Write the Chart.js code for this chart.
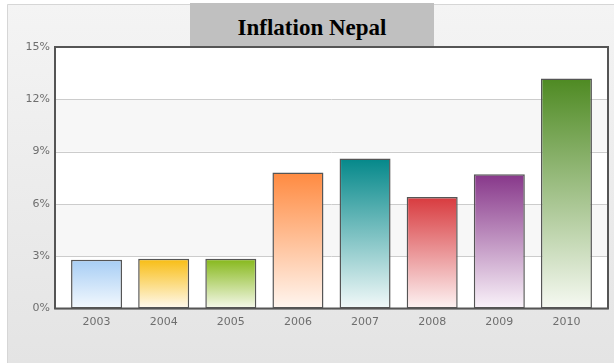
<!DOCTYPE html>
<html>
<head>
<meta charset="utf-8">
<script src="https://cdn.jsdelivr.net/npm/chart.js@4/dist/chart.umd.min.js"></script>
<style>
  html, body { margin: 0; padding: 0; background: #fff; }
  #wrap { position: relative; width: 614px; height: 363px; }
  #title {
    position: absolute; left: 190px; top: 3px; width: 244px; height: 43px;
    background: #c0c0c0; color: #000; text-align: center;
    font: bold 23px "Liberation Serif", "DejaVu Serif", serif; line-height: 50px;
  }
</style>
</head>
<body>
<div id="wrap">
  <canvas id="chart" width="614" height="363"></canvas>
  <div id="title">Inflation Nepal</div>
</div>
<script>
// --- Data ---
const years = ['2003', '2004', '2005', '2006', '2007', '2008', '2009', '2010'];
const inflation = [2.8, 2.85, 2.85, 7.8, 8.6, 6.4, 7.7, 13.2];
const yTicks = [0, 3, 6, 9, 12, 15];
const topColors = ['#a6cdf4', '#f8bd12', '#86b81a', '#ff8a40', '#04888a', '#d83a3e', '#87378a', '#4e8a22'];
const bottomColors = ['#f4f9fe', '#fffaf0', '#f6f9ec', '#fff6f0', '#f2f9f9', '#fdf3f3', '#faf3fa', '#f6f9f2'];

const FRAME_PAD = 8;

// --- Gradient per bar ---
function barGradient(context) {
  const chart = context.chart;
  const yScale = chart.scales.y;
  if (!yScale || !chart.chartArea) return topColors[context.dataIndex];
  const top = yScale.getPixelForValue(context.raw);
  const bottom = yScale.getPixelForValue(0);
  const g = chart.ctx.createLinearGradient(0, top, 0, bottom);
  g.addColorStop(0, topColors[context.dataIndex]);
  g.addColorStop(1, bottomColors[context.dataIndex]);
  return g;
}

// --- Background panel, bands, grid and frame ---
const panelPlugin = {
  id: 'panel',
  beforeDraw(chart) {
    const ctx = chart.ctx;
    ctx.save();
    ctx.fillStyle = '#ffffff';
    ctx.fillRect(0, 0, chart.width, chart.height);
    const g = ctx.createLinearGradient(0, 4, 0, chart.height);
    g.addColorStop(0, '#f4f4f4');
    g.addColorStop(1, '#e4e4e4');
    ctx.fillStyle = g;
    ctx.fillRect(7, 4, chart.width - 7, chart.height - 4);
    ctx.strokeStyle = '#d6d6d6';
    ctx.lineWidth = 1;
    ctx.beginPath();
    ctx.moveTo(7.5, chart.height);
    ctx.lineTo(7.5, 4.5);
    ctx.lineTo(chart.width, 4.5);
    ctx.stroke();
    ctx.restore();
  },
  beforeDatasetsDraw(chart) {
    const ctx = chart.ctx;
    const area = chart.chartArea;
    const y = chart.scales.y;
    const left = area.left - FRAME_PAD;
    const right = area.right + FRAME_PAD;
    ctx.save();
    ctx.fillStyle = '#ffffff';
    ctx.fillRect(left, area.top, right - left, area.bottom - area.top);
    for (let i = 0; i < yTicks.length - 1; i++) {
      if (i % 2 === 1) {
        const y0 = y.getPixelForValue(yTicks[i]);
        const y1 = y.getPixelForValue(yTicks[i + 1]);
        ctx.fillStyle = '#f7f7f7';
        ctx.fillRect(left, y1, right - left, y0 - y1);
      }
    }
    ctx.strokeStyle = '#cccccc';
    ctx.lineWidth = 1;
    yTicks.forEach((t) => {
      const py = Math.round(y.getPixelForValue(t)) + 0.5;
      ctx.beginPath();
      ctx.moveTo(left, py);
      ctx.lineTo(right, py);
      ctx.stroke();
    });
    ctx.restore();
  },
  afterDatasetsDraw(chart) {
    const ctx = chart.ctx;
    const area = chart.chartArea;
    ctx.save();
    ctx.strokeStyle = '#555555';
    ctx.lineWidth = 2;
    ctx.strokeRect(area.left - FRAME_PAD, area.top, area.right - area.left + 2 * FRAME_PAD, area.bottom - area.top);
    ctx.restore();
  },
};

const tickFont = { family: 'DejaVu Sans, Verdana, sans-serif', size: 11 };

new Chart(document.getElementById('chart'), {
  type: 'bar',
  data: {
    labels: years,
    datasets: [
      {
        data: inflation,
        backgroundColor: barGradient,
        borderColor: '#555555',
        borderWidth: 1.5,
        borderSkipped: false,
        categoryPercentage: 1,
        barPercentage: 0.76,
      },
    ],
  },
  options: {
    responsive: false,
    animation: false,
    devicePixelRatio: 1,
    layout: { padding: { top: 47, right: 14, left: 0, bottom: 0 } },
    scales: {
      x: {
        grid: { display: false, drawTicks: false },
        border: { display: false },
        ticks: { color: '#6e6e6e', font: tickFont, padding: 7 },
        afterFit: (scale) => { scale.height = 54.5; },
      },
      y: {
        min: 0,
        max: 15,
        afterBuildTicks: (scale) => { scale.ticks = yTicks.map((v) => ({ value: v })); },
        grid: { display: false, drawTicks: false },
        border: { display: false },
        ticks: { color: '#6e6e6e', font: tickFont, padding: 13, callback: (v) => v + '%' },
        afterFit: (scale) => { scale.width = 63; },
      },
    },
    plugins: { legend: { display: false }, tooltip: { enabled: false } },
  },
  plugins: [panelPlugin],
});
</script>
</body>
</html>
